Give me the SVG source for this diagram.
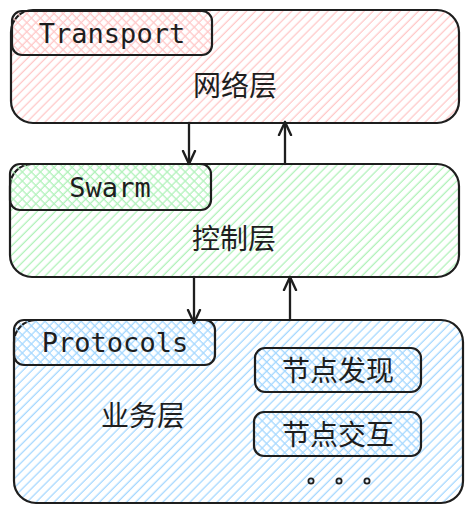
<svg xmlns="http://www.w3.org/2000/svg" width="472" height="514" viewBox="0 0 472 514">
<defs>
<pattern id="hR" width="6.4" height="6.4" patternUnits="userSpaceOnUse" patternTransform="rotate(45)"><line x1="3" y1="0" x2="3" y2="6.4" stroke="#ffc9c9" stroke-width="1.3"/></pattern>
<pattern id="hG" width="6.4" height="6.4" patternUnits="userSpaceOnUse" patternTransform="rotate(45)"><line x1="3" y1="0" x2="3" y2="6.4" stroke="#b2f2bb" stroke-width="1.3"/></pattern>
<pattern id="hB" width="6.4" height="6.4" patternUnits="userSpaceOnUse" patternTransform="rotate(45)"><line x1="3" y1="0" x2="3" y2="6.4" stroke="#a5d8ff" stroke-width="1.3"/></pattern>
<pattern id="xR" width="6.4" height="6.4" patternUnits="userSpaceOnUse" patternTransform="rotate(-45)"><line x1="3" y1="0" x2="3" y2="6.4" stroke="#ffc9c9" stroke-width="1.3"/></pattern>
<pattern id="xG" width="6.4" height="6.4" patternUnits="userSpaceOnUse" patternTransform="rotate(-45)"><line x1="3" y1="0" x2="3" y2="6.4" stroke="#b2f2bb" stroke-width="1.3"/></pattern>
<pattern id="xB" width="6.4" height="6.4" patternUnits="userSpaceOnUse" patternTransform="rotate(-45)"><line x1="3" y1="0" x2="3" y2="6.4" stroke="#a5d8ff" stroke-width="1.3"/></pattern>
<marker id="ah" viewBox="0 0 16 16" refX="14" refY="8" markerWidth="16" markerHeight="16" markerUnits="userSpaceOnUse" orient="auto">
<path d="M1 2 L14 8 L1 14" fill="none" stroke="#1e1e1e" stroke-width="2.4" stroke-linecap="round" stroke-linejoin="round"/>
</marker>
</defs>
<style>
.box{stroke:#1e1e1e;stroke-width:2.2;}
.lbl{font-family:"DejaVu Sans Mono","Liberation Mono",monospace;font-size:27px;fill:#1e1e1e;text-anchor:middle;dominant-baseline:central;}
.cjk{font-family:"Noto Sans CJK SC","Noto Sans",sans-serif;font-size:28px;fill:#1e1e1e;text-anchor:middle;dominant-baseline:central;}
.ln{stroke:#1e1e1e;stroke-width:2.3;fill:none;stroke-linecap:round;}
.dot{fill:none;stroke:#1e1e1e;stroke-width:1.8;}
</style>
<g id="transport">
<rect class="box" x="11" y="10" width="448" height="113" rx="22" fill="url(#hR)"/>
<rect class="box" x="12" y="11" width="200" height="44" rx="10" fill="url(#xR)"/>
<text class="lbl" x="112" y="33">Transport</text>
<text class="cjk" x="235" y="84">网络层</text>
</g>
<g id="swarm">
<rect class="box" x="10" y="164" width="449" height="113" rx="22" fill="url(#hG)"/>
<rect class="box" x="10" y="164" width="201" height="46" rx="10" fill="url(#xG)"/>
<text class="lbl" x="110" y="187">Swarm</text>
<text class="cjk" x="234" y="237">控制层</text>
</g>
<g id="protocols">
<rect class="box" x="14" y="320" width="449" height="183" rx="22" fill="url(#hB)"/>
<rect class="box" x="14" y="320" width="201" height="45" rx="10" fill="url(#xB)"/>
<text class="lbl" x="115" y="342">Protocols</text>
<text class="cjk" x="143" y="414">业务层</text>
</g>
<g id="discovery">
<rect class="box" x="255" y="348" width="166" height="44" rx="10" fill="url(#xB)"/>
<text class="cjk" x="338" y="369">节点发现</text>
</g>
<g id="interaction">
<rect class="box" x="254" y="412" width="167" height="44" rx="10" fill="url(#xB)"/>
<text class="cjk" x="338" y="433">节点交互</text>
</g>
<g id="more">
<circle class="dot" cx="311" cy="481" r="2.6"/>
<circle class="dot" cx="339" cy="481" r="2.6"/>
<circle class="dot" cx="367" cy="481" r="2.6"/>
</g>
<g id="connectors">
<line class="ln" x1="189" y1="123" x2="189" y2="164" marker-end="url(#ah)"/>
<line class="ln" x1="285" y1="164" x2="285" y2="122" marker-end="url(#ah)"/>
<line class="ln" x1="194" y1="277" x2="194" y2="323" marker-end="url(#ah)"/>
<line class="ln" x1="290" y1="320" x2="290" y2="277" marker-end="url(#ah)"/>
</g>
</svg>
